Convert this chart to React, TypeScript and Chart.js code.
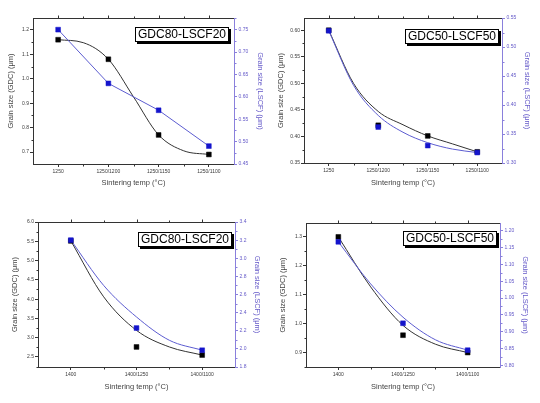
import React, { useEffect, useRef } from 'react';
import { Chart, registerables } from 'chart.js';

Chart.register(...registerables);

// ---------------- data ----------------
// Top-left: GDC80-LSCF20, 1250 series
const catsTL = ['1250', '1250/1200', '1250/1150', '1250/1100'];
const gdcTL = [1.16, 1.08, 0.77, 0.69];
const lscfTL = [0.75, 0.63, 0.57, 0.49];
const gdcFitTL = [1.16, 1.148, 1.08, 0.926, 0.77, 0.705, 0.69];
const leftTicksTL = [0.7, 0.8, 0.9, 1.0, 1.1, 1.2];
const rightTicksTL = [0.45, 0.5, 0.55, 0.6, 0.65, 0.7, 0.75];
const leftRangeTL = [0.651, 1.249];
const rightRangeTL = [0.45, 0.776];

// Top-right: GDC50-LSCF50, 1250 series
const catsTR = ['1250', '1250/1200', '1250/1150', '1250/1100'];
const gdcTR = [0.6, 0.421, 0.401, 0.371];
const lscfTR = [0.528, 0.362, 0.33, 0.318];
const gdcFitTR = [0.6, 0.5, 0.447, 0.422, 0.401, 0.386, 0.371];
const lscfFitTR = [0.528, 0.434, 0.382, 0.353, 0.335, 0.324, 0.318];
const leftTicksTR = [0.35, 0.4, 0.45, 0.5, 0.55, 0.6];
const rightTicksTR = [0.3, 0.35, 0.4, 0.45, 0.5, 0.55];
const leftRangeTR = [0.35, 0.623];
const rightRangeTR = [0.3, 0.55];

// Bottom-left: GDC80-LSCF20, 1400 series
const catsBL = ['1400', '1400/1250', '1400/1100'];
const gdcBL = [5.51, 2.76, 2.55];
const lscfBL = [3.2, 2.23, 1.985];
const gdcFitBL = [5.51, 4.06, 3.19, 2.76, 2.55];
const lscfFitBL = [3.2, 2.7, 2.352, 2.095, 1.985];
const leftTicksBL = [2.5, 3.0, 3.5, 4.0, 4.5, 5.0, 5.5, 6.0];
const rightTicksBL = [1.8, 2.0, 2.2, 2.4, 2.6, 2.8, 3.0, 3.2, 3.4];
const leftRangeBL = [2.24, 6.0];
const rightRangeBL = [1.8, 3.4];

// Bottom-right: GDC50-LSCF50, 1400 series
const catsBR = ['1400', '1400/1250', '1400/1100'];
const gdcBR = [1.3, 0.96, 0.9];
const lscfBR = [1.167, 0.925, 0.845];
const gdcFitBR = [1.3, 1.127, 0.994, 0.929, 0.9];
const lscfFitBR = [1.167, 1.042, 0.943, 0.876, 0.845];
const leftTicksBR = [0.9, 1.0, 1.1, 1.2, 1.3];
const rightTicksBR = [0.8, 0.85, 0.9, 0.95, 1.0, 1.05, 1.1, 1.15, 1.2];
const leftRangeBR = [0.85, 1.348];
const rightRangeBR = [0.795, 1.223];

// ---------------- styles ----------------
const FAMILY = 'Arial, "Liberation Sans", sans-serif';
const LEFT_COLOR = '#3a3a3a';
const RIGHT_COLOR = '#6459c8';
const RIGHT_AXIS = '#8a80dc';
const BLUE_MARK = '#1414cc';
const BLUE_LINE = '#5c5cd0';
const BLACK_LINE = '#333333';

type PanelCfg = {
  cats: string[];
  gdc: number[];
  lscf: number[];
  gdcFit: number[];
  lscfFit: number[] | null;
  leftTicks: number[];
  rightTicks: number[];
  leftRange: number[];
  rightRange: number[];
  leftDec: number;
  rightDec: number;
  label: string;
  pos: { x: number; y: number; w: number; h: number };
  area: { l: number; r: number; t: number; b: number };
  box: { x: number; y: number };
  pads: { left: number; right: number; bottom: number };
};

const panels: PanelCfg[] = [
  {
    cats: catsTL, gdc: gdcTL, lscf: lscfTL, gdcFit: gdcFitTL, lscfFit: null,
    leftTicks: leftTicksTL, rightTicks: rightTicksTL, leftRange: leftRangeTL, rightRange: rightRangeTL,
    leftDec: 1, rightDec: 2, label: 'GDC80-LSCF20',
    pos: { x: 0, y: 0, w: 270, h: 200 },
    area: { l: 33, r: 234, t: 18, b: 164 },
    box: { x: 135, y: 27 },
    pads: { left: 6.2, right: 5.5, bottom: 12.5 },
  },
  {
    cats: catsTR, gdc: gdcTR, lscf: lscfTR, gdcFit: gdcFitTR, lscfFit: lscfFitTR,
    leftTicks: leftTicksTR, rightTicks: rightTicksTR, leftRange: leftRangeTR, rightRange: rightRangeTR,
    leftDec: 2, rightDec: 2, label: 'GDC50-LSCF50',
    pos: { x: 270, y: 0, w: 270, h: 200 },
    area: { l: 34, r: 232, t: 18, b: 163 },
    box: { x: 135, y: 29 },
    pads: { left: 6.2, right: 8.8, bottom: 12.8 },
  },
  {
    cats: catsBL, gdc: gdcBL, lscf: lscfBL, gdcFit: gdcFitBL, lscfFit: lscfFitBL,
    leftTicks: leftTicksBL, rightTicks: rightTicksBL, leftRange: leftRangeBL, rightRange: rightRangeBL,
    leftDec: 1, rightDec: 1, label: 'GDC80-LSCF20',
    pos: { x: 0, y: 200, w: 270, h: 203 },
    area: { l: 38, r: 235, t: 22, b: 167 },
    box: { x: 138, y: 32 },
    pads: { left: 10.5, right: 8.5, bottom: 11.2 },
  },
  {
    cats: catsBR, gdc: gdcBR, lscf: lscfBR, gdcFit: gdcFitBR, lscfFit: lscfFitBR,
    leftTicks: leftTicksBR, rightTicks: rightTicksBR, leftRange: leftRangeBR, rightRange: rightRangeBR,
    leftDec: 1, rightDec: 2, label: 'GDC50-LSCF50',
    pos: { x: 270, y: 200, w: 270, h: 203 },
    area: { l: 36, r: 230, t: 23, b: 167 },
    box: { x: 133, y: 31 },
    pads: { left: 8.8, right: 10.5, bottom: 11.2 },
  },
];

const framePlugin = {
  id: 'frameDeco',
  afterDraw(chart: any, _args: any, opts: any) {
    const { ctx, chartArea: a, scales } = chart;
    const x = scales.x, yl = scales.y, yr = scales.y1;
    const n = opts.count as number;
    ctx.save();
    ctx.lineWidth = 1;
    const top = Math.round(a.top) + 0.5;
    // top frame line
    ctx.strokeStyle = '#333';
    ctx.beginPath();
    ctx.moveTo(a.left, top);
    ctx.lineTo(a.right, top);
    ctx.stroke();
    // top & bottom ticks
    const bottom = Math.round(a.bottom) + 0.5;
    ctx.beginPath();
    for (let i = 0; i < n; i++) {
      const px = Math.round(x.getPixelForValue(i)) + 0.5;
      ctx.moveTo(px, top);
      ctx.lineTo(px, top - 3);
    }
    for (let i = -1; i < n; i++) {
      const v = i + 0.5;
      if (v <= x.min || v >= x.max) continue;
      const px = Math.round(x.getPixelForValue(v)) + 0.5;
      ctx.moveTo(px, top);
      ctx.lineTo(px, top - 2);
      ctx.moveTo(px, bottom);
      ctx.lineTo(px, bottom + 2);
    }
    ctx.stroke();
    // minor ticks on y axes
    const minor = (scale: any, ticks: number[], side: number, color: string) => {
      if (ticks.length < 2) return;
      const step = ticks[1] - ticks[0];
      const edge = side < 0 ? Math.round(a.left) + 0.5 : Math.round(a.right) + 0.5;
      ctx.strokeStyle = color;
      ctx.beginPath();
      for (let v = ticks[0] - step / 2; v <= scale.max + 1e-9; v += step) {
        if (v < scale.min - 1e-9) continue;
        const py = Math.round(scale.getPixelForValue(v)) + 0.5;
        ctx.moveTo(edge, py);
        ctx.lineTo(edge + side * 2, py);
      }
      ctx.stroke();
    };
    minor(yl, opts.leftTicks, -1, '#333');
    minor(yr, opts.rightTicks, 1, RIGHT_AXIS);
    // label box
    ctx.font = `12px ${FAMILY}`;
    const label = opts.label as string;
    const w = Math.round(ctx.measureText(label).width + 5);
    const h = 14;
    const bx = opts.box.x, by = opts.box.y;
    ctx.fillStyle = '#000';
    ctx.fillRect(bx + 2, by + 2, w + 1, h + 1);
    ctx.fillStyle = '#fff';
    ctx.fillRect(bx, by, w, h);
    ctx.strokeStyle = '#000';
    ctx.strokeRect(bx + 0.5, by + 0.5, w, h);
    ctx.fillStyle = '#000';
    ctx.textBaseline = 'middle';
    ctx.textAlign = 'left';
    ctx.fillText(label, bx + 3, by + h / 2 + 1);
    ctx.restore();
  },
};

function Panel({ cfg }: { cfg: PanelCfg }) {
  const ref = useRef<HTMLCanvasElement>(null);
  useEffect(() => {
    if (!ref.current) return;
    const { pos, area, pads, cats } = cfg;
    const n = cats.length;
    const pts = (arr: number[]) => arr.map((y, i) => ({ x: i, y }));
    const fit = (arr: number[]) => arr.map((y, i) => ({ x: i * 0.5, y }));
    const datasets: any[] = [
      {
        data: pts(cfg.lscf), yAxisID: 'y1', showLine: cfg.lscfFit === null,
        borderColor: BLUE_LINE, borderWidth: 1, tension: 0,
        pointStyle: 'rect', pointRadius: 3.4, pointBackgroundColor: BLUE_MARK, pointBorderColor: BLUE_MARK,
        pointBorderWidth: 0.5,
      },
      {
        data: pts(cfg.gdc), yAxisID: 'y', showLine: false,
        pointStyle: 'rect', pointRadius: 3.4, pointBackgroundColor: '#000', pointBorderColor: '#000',
        pointBorderWidth: 0.5,
      },
    ];
    if (cfg.lscfFit) {
      datasets.push({
        data: fit(cfg.lscfFit), yAxisID: 'y1', showLine: true, pointRadius: 0,
        borderColor: BLUE_LINE, borderWidth: 1, cubicInterpolationMode: 'monotone',
      });
    }
    datasets.push({
      data: fit(cfg.gdcFit), yAxisID: 'y', showLine: true, pointRadius: 0,
      borderColor: BLACK_LINE, borderWidth: 1, cubicInterpolationMode: 'monotone',
    });

    const tickFont = { size: 5, family: FAMILY };
    const titleFont = { size: 7.5, family: FAMILY };
    const chart = new Chart(ref.current, {
      type: 'scatter',
      data: { datasets },
      plugins: [framePlugin],
      options: {
        animation: false,
        responsive: false,
        maintainAspectRatio: false,
        layout: { padding: { top: area.t, left: 0, right: 0, bottom: 0 } },
        plugins: {
          legend: { display: false },
          tooltip: { enabled: false },
          frameDeco: {
            count: n, leftTicks: cfg.leftTicks, rightTicks: cfg.rightTicks,
            label: cfg.label, box: cfg.box,
          },
        } as any,
        scales: {
          x: {
            type: 'linear',
            min: -0.5,
            max: n - 0.5,
            afterFit: (s: any) => { s.height = pos.h - area.b; },
            afterBuildTicks: (s: any) => { s.ticks = cats.map((_, i) => ({ value: i })); },
            ticks: {
              callback: (v: any) => cats[Math.round(Number(v))] ?? '',
              font: tickFont, color: LEFT_COLOR, padding: 2, maxRotation: 0, autoSkip: false,
            },
            grid: { display: true, drawOnChartArea: false, tickLength: 3, color: '#333', tickColor: '#333' },
            border: { display: true, color: '#333', width: 1 },
            title: {
              display: true, text: 'Sintering temp (°C)', font: titleFont, color: '#444',
              padding: { top: 0, bottom: pads.bottom },
            },
          },
          y: {
            type: 'linear',
            position: 'left',
            min: cfg.leftRange[0],
            max: cfg.leftRange[1],
            afterFit: (s: any) => { s.width = area.l; },
            afterBuildTicks: (s: any) => { s.ticks = cfg.leftTicks.map((v) => ({ value: v })); },
            ticks: {
              callback: (v: any) => Number(v).toFixed(cfg.leftDec),
              font: tickFont, color: LEFT_COLOR, padding: 1,
            },
            grid: { display: true, drawOnChartArea: false, tickLength: 3, color: '#333', tickColor: '#333' },
            border: { display: true, color: '#333', width: 1 },
            title: {
              display: true, text: 'Grain size (GDC) (μm)', font: titleFont, color: '#444',
              padding: { top: pads.left, bottom: 0 },
            },
          },
          y1: {
            type: 'linear',
            position: 'right',
            min: cfg.rightRange[0],
            max: cfg.rightRange[1],
            afterFit: (s: any) => { s.width = pos.w - area.r; },
            afterBuildTicks: (s: any) => { s.ticks = cfg.rightTicks.map((v) => ({ value: v })); },
            ticks: {
              callback: (v: any) => Number(v).toFixed(cfg.rightDec),
              font: tickFont, color: RIGHT_COLOR, padding: 1.5,
            },
            grid: { display: true, drawOnChartArea: false, tickLength: 3, color: RIGHT_AXIS, tickColor: RIGHT_AXIS },
            border: { display: true, color: RIGHT_AXIS, width: 1 },
            title: {
              display: true, text: 'Grain size (LSCF) (μm)', font: titleFont, color: RIGHT_COLOR,
              padding: { top: pads.right, bottom: 0 },
            },
          },
        },
      } as any,
    });
    return () => chart.destroy();
  }, [cfg]);
  return (
    <div style={{ position: 'absolute', left: cfg.pos.x, top: cfg.pos.y, width: cfg.pos.w, height: cfg.pos.h }}>
      <canvas ref={ref} width={cfg.pos.w} height={cfg.pos.h} style={{ width: cfg.pos.w, height: cfg.pos.h, display: 'block' }} />
    </div>
  );
}

export default function App() {
  return (
    <div style={{ position: 'absolute', left: 0, top: 0, width: 540, height: 403, background: '#fff' }}>
      {panels.map((p, i) => (
        <Panel key={i} cfg={p} />
      ))}
    </div>
  );
}
